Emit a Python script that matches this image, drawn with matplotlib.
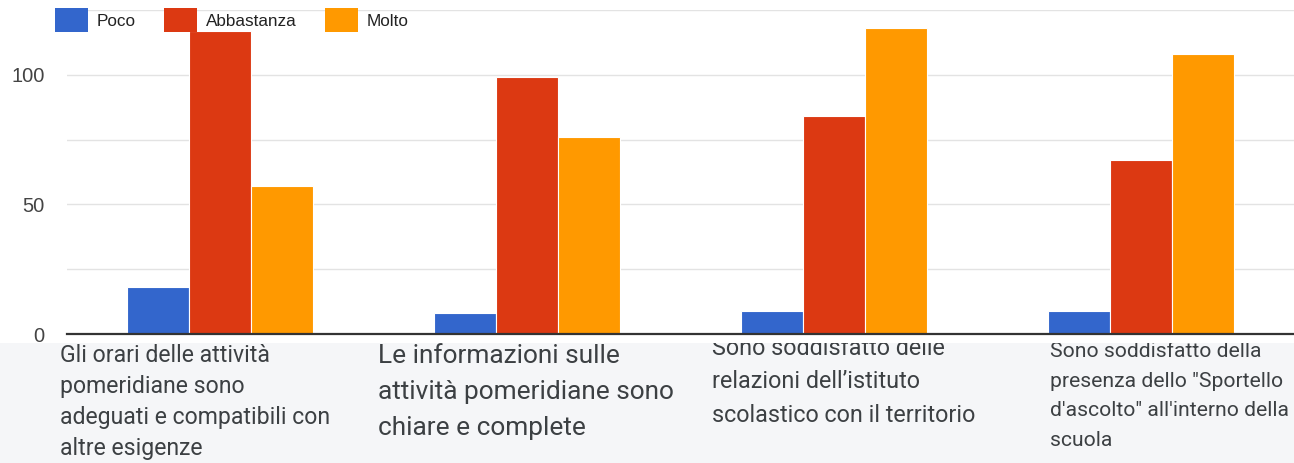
import matplotlib
matplotlib.use("Agg")
import matplotlib.pyplot as plt
from matplotlib.patches import Rectangle, Patch

categories = [
    "Gli orari delle attività\npomeridiane sono\nadeguati e compatibili con\naltre esigenze",
    "Le informazioni sulle\nattività pomeridiane sono\nchiare e complete",
    "Sono soddisfatto delle\nrelazioni dell\u2019istituto\nscolastico con il territorio",
    "Sono soddisfatto della\npresenza dello \"Sportello\nd'ascolto\" all'interno della\nscuola",
]
series_names = ["Poco", "Abbastanza", "Molto"]
poco = [18, 8, 9, 9]
abbastanza = [117, 99, 84, 67]
molto = [57, 76, 118, 108]
yticks = [0, 50, 100]

colors = ["#3366cc", "#dc3912", "#ff9900"]

W, H = 1294, 463
fig = plt.figure(figsize=(W / 100, H / 100), dpi=100)
plt.rcParams['font.family'] = ['Roboto', 'DejaVu Sans']

ax = fig.add_axes([67 / W, 1 - 334 / H, 1 - 67 / W, (334 - 10) / H])
x = list(range(len(categories)))
bw = 0.202
for i, (vals, name, c) in enumerate(zip([poco, abbastanza, molto], series_names, colors)):
    ax.bar([xi + (i - 1) * bw for xi in x], vals, width=bw, color=c,
           edgecolor="white", linewidth=0.8, zorder=3, label=name)

ax.set_xlim(-0.5, 3.5)
ax.set_ylim(0, 125)
ax.set_yticks([0, 25, 50, 75, 100, 125])
ax.set_yticklabels([str(v) if v in yticks else "" for v in [0, 25, 50, 75, 100, 125]],
                   family=['Liberation Sans', 'DejaVu Sans'])
ax.tick_params(axis="y", length=0, pad=16, labelsize=14.5, labelcolor="#444444")
ax.set_xticks([])
ax.grid(axis="y", color="#e3e3e3", linewidth=1, zorder=0)
for s in ["top", "right", "left"]:
    ax.spines[s].set_visible(False)
ax.spines["bottom"].set_color("#333333")
ax.spines["bottom"].set_linewidth(1.6)
ax.spines["bottom"].set_zorder(4)

# legend
handles = [Patch(facecolor=c, edgecolor="none") for c in colors]
fig.legend(handles, series_names, loc="center left", bbox_to_anchor=(55 / W, 1 - 20 / H),
           ncol=3, frameon=False, handlelength=1.93, handleheight=1.7,
           handletextpad=0.53, columnspacing=1.64, labelcolor="#222222",
           borderaxespad=0, borderpad=0,
           prop={'family': ['Liberation Sans', 'DejaVu Sans'], 'size': 12.3})

# grey label band
band = Rectangle((0, 0), 1, 1 - 343 / H, transform=fig.transFigure,
                 facecolor="#f5f6f8", edgecolor="none", zorder=0)
fig.patches.append(band)

label_specs = [
    # x_px, first baseline px, line spacing px, font size pt
    (60, 362, 31, 16.6),
    (378, 363, 36, 18.9),
    (712, 355, 33.5, 16.8),
    (1050, 357, 29.7, 15.2),
]
clip = Rectangle((0, 0), 1, 1 - 343 / H, transform=fig.transFigure,
                 facecolor="none", edgecolor="none")
fig.patches.append(clip)
for lab, (xp, yb, sp, fs) in zip(categories, label_specs):
    for j, line in enumerate(lab.split("\n")):
        t = fig.text(xp / W, 1 - (yb + j * sp) / H, line, ha="left", va="baseline",
                     fontsize=fs, color="#3c4043", zorder=2)
        t.set_clip_path(clip)

fig.savefig("out.png", dpi=100, facecolor="white")
